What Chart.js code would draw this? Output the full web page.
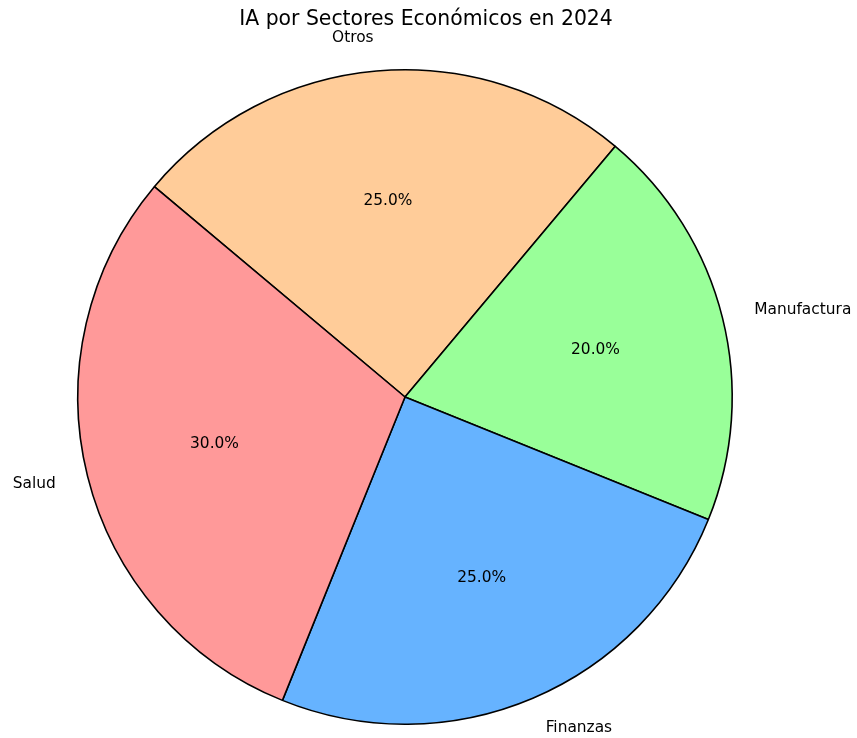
<!DOCTYPE html>
<html>
<head>
<meta charset="utf-8">
<script src="https://cdn.jsdelivr.net/npm/chart.js@4"></script>
<style>
  html, body { margin: 0; padding: 0; background: #fff; }
  #wrap { width: 857px; height: 738px; position: relative; }
</style>
</head>
<body>
<div id="wrap"><canvas id="pieChart"></canvas></div>
<script>
    'use strict';

    // Datos (orden de matplotlib, sentido antihorario)
    const sectores = ['Salud', 'Finanzas', 'Manufactura', 'Otros'];
    const porcentajes = [30, 25, 20, 25];
    const colores = ['#ff9999', '#66b3ff', '#99ff99', '#ffcc99'];
    const titulo = 'IA por Sectores Económicos en 2024';

    // Chart.js dibuja en sentido horario -> invertimos el orden
    const labels = sectores.slice().reverse();
    const values = porcentajes.slice().reverse();
    const bg = colores.slice().reverse();
    const total = values.reduce((a, b) => a + b, 0);

    const textPlugin = {
        id: 'pieText',
        afterDraw(chart) {
            const ctx = chart.ctx;
            const meta = chart.getDatasetMeta(0);
            ctx.save();
            ctx.fillStyle = '#000';
            ctx.textBaseline = 'middle';

            // Título
            ctx.font = '20.4px "DejaVu Sans"';
            ctx.textAlign = 'center';
            ctx.fillText(titulo, 426, 20);

            ctx.font = '15.4px "DejaVu Sans"';
            meta.data.forEach(function(arc, i) {
                const mid = (arc.startAngle + arc.endAngle) / 2;
                const r = arc.outerRadius;
                const cos = Math.cos(mid);
                const sin = Math.sin(mid);

                // Etiqueta exterior (labeldistance 1.1)
                ctx.textAlign = cos > 0 ? 'left' : 'right';
                ctx.fillText(labels[i], arc.x + 1.1 * r * cos, arc.y + 1.1 * r * sin);

                // Porcentaje (pctdistance 0.6)
                ctx.textAlign = 'center';
                const pct = (values[i] / total * 100).toFixed(1) + '%';
                ctx.fillText(pct, arc.x + 0.6 * r * cos, arc.y + 0.6 * r * sin);
            });
            ctx.restore();
        }
    };

    new Chart(document.getElementById('pieChart'), {
        type: 'pie',
        data: {
            labels: labels,
            datasets: [{
                data: values,
                backgroundColor: bg,
                borderColor: '#000',
                borderWidth: 1.6,
                hoverOffset: 0
            }]
        },
        options: {
            responsive: true,
            maintainAspectRatio: false,
            animation: false,
            rotation: -50,
            layout: {
                padding: { left: 77, right: 124, top: 69, bottom: 13 }
            },
            plugins: {
                legend: { display: false },
                tooltip: { enabled: false },
                title: { display: false }
            }
        },
        plugins: [textPlugin]
    });
</script>
</body>
</html>
